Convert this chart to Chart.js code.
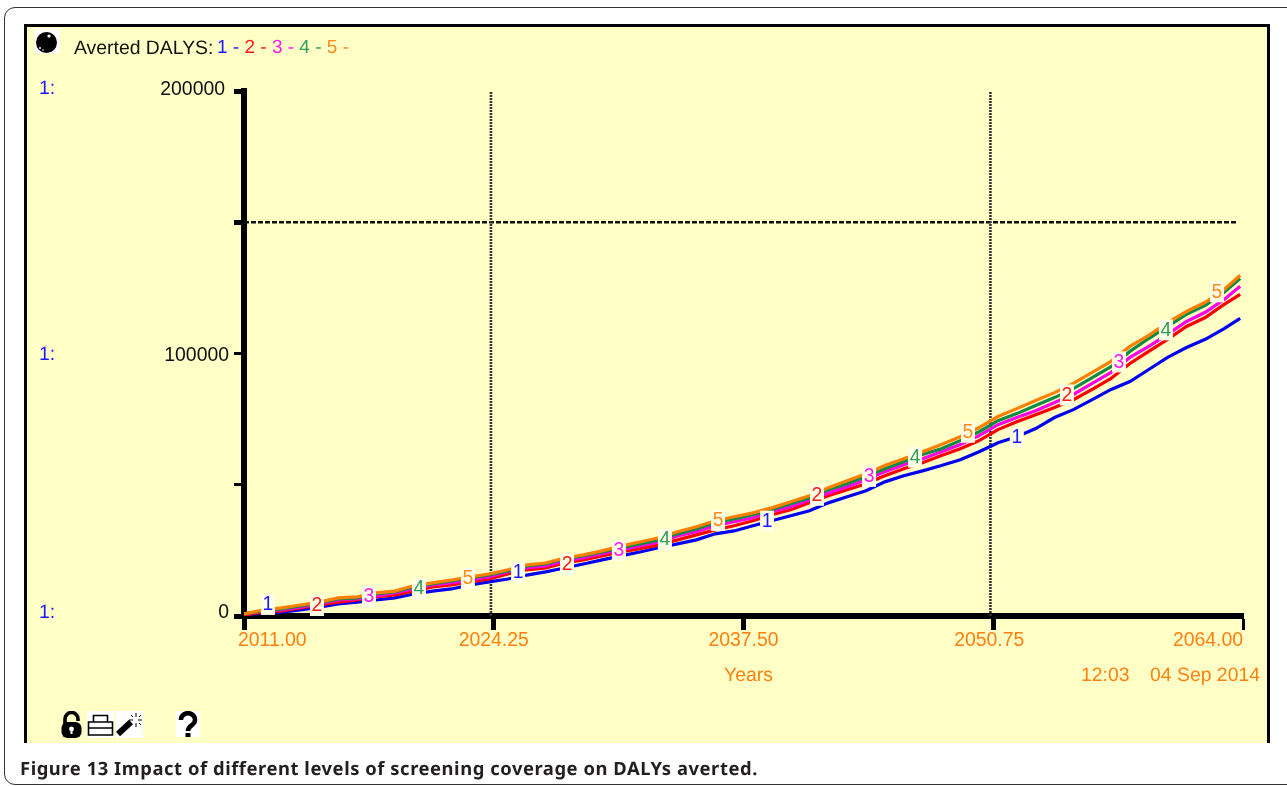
<!DOCTYPE html>
<html>
<head>
<meta charset="utf-8">
<script src="https://cdn.jsdelivr.net/npm/chart.js@4"></script>
<style>
html,body{margin:0;padding:0;background:#fff;width:1287px;height:786px;overflow:hidden;text-rendering:geometricPrecision}
#outer{position:absolute;left:4px;top:7px;width:1400px;height:778px;box-sizing:border-box;border:1px solid #333;border-radius:11px}
#panel{position:absolute;left:24px;top:24px;width:1246px;height:719px;box-sizing:border-box;background:#FFFFC6;border:3px solid #000;border-bottom:none}
canvas{position:absolute;left:0;top:0}
.t{position:absolute;font:19.4px "Liberation Sans",Arial,sans-serif;line-height:22px;white-space:pre}
#cap{position:absolute;left:20px;top:758px;font:bold 18.4px "Noto Sans",sans-serif;line-height:22px;letter-spacing:.55px;color:#231F20;white-space:pre}
svg{position:absolute}
</style>
</head>
<body>
<div id="outer"></div>
<div id="panel"></div>
<canvas id="c" width="1287" height="786"></canvas>
<div class="t" style="left:74px;top:37px;color:#111">Averted DALYS:</div>
<div class="t" id="leg" style="left:217px;top:37px;font-size:19px"></div>
<div class="t" style="left:39px;top:77px;color:#1A1AFF">1:</div>
<div class="t" style="left:39px;top:343px;color:#1A1AFF">1:</div>
<div class="t" style="left:39px;top:601px;color:#1A1AFF">1:</div>
<div class="t" style="left:724px;top:664px;color:#FF8010">Years</div>
<div class="t" style="left:1081px;top:664px;color:#FF8010">12:03</div>
<div class="t" style="left:1150px;top:664px;color:#FF8010">04 Sep 2014</div>
<div id="cap">Figure 13 Impact of different levels of screening coverage on DALYs averted.</div>

<svg style="left:35px;top:28px" width="25" height="25" viewBox="0 0 25 25"><rect width="25" height="25" fill="#fff"/><circle cx="11.5" cy="14.5" r="10.5" fill="#000"/><circle cx="14" cy="8" r="1.6" fill="#fff"/><circle cx="5" cy="20" r="1" fill="#fff"/><circle cx="8" cy="22" r=".8" fill="#fff"/></svg>
<svg style="left:60px;top:711px" width="25" height="27" viewBox="0 0 25 27"><path d="M5 14V8a6.5 6.5 0 0 1 13 0v2" fill="none" stroke="#000" stroke-width="3.6"/><rect x="1.5" y="11" width="20" height="16" rx="6" fill="#000"/><circle cx="11.5" cy="18" r="2.4" fill="#fff"/><rect x="10.5" y="18" width="2" height="5" fill="#fff"/></svg>
<svg style="left:87px;top:711px" width="27" height="27" viewBox="0 0 27 27"><rect width="27" height="27" fill="#fff"/><path d="M6.5 11V4.5h14V11M1.5 11h24v13h-24zM1.5 17h24" fill="none" stroke="#000" stroke-width="1.6"/></svg>
<svg style="left:116px;top:711px" width="27" height="27" viewBox="0 0 27 27"><rect width="27" height="27" fill="#fff"/><path d="M2 23l13-12" stroke="#000" stroke-width="6"/><path d="M20 2v4M20 12v4M13 9h4M22 9h4M15 4l2 2M25 4l-2 2M25 14l-2-2" stroke="#000" stroke-width="1"/></svg>
<svg style="left:176px;top:711px" width="24" height="26" viewBox="0 0 24 26"><rect width="24" height="26" fill="#fff"/><path d="M5 9a7 6.5 0 1 1 11 5c-3 2-4 3-4 6" fill="none" stroke="#000" stroke-width="4.5"/><rect x="9.5" y="22" width="5" height="4" fill="#000"/></svg>

<script>
const years = [2011,2012,2013,2014,2015,2016,2017,2018,2019,2020,2021,2022,2023,2024,2025,2026,2027,2028,2029,2030,2031,2032,2033,2034,2035,2036,2037,2038,2039,2040,2041,2042,2043,2044,2045,2046,2047,2048,2049,2050,2051,2052,2053,2054,2055,2056,2057,2058,2059,2060,2061,2062,2063,2063.85];
const s1 = [400,1100,1500,2300,3400,4600,5300,6100,6900,8400,9500,10300,11800,13000,14100,15600,16800,18300,19800,21400,22900,24400,26000,27500,29000,31300,32400,34400,36300,38200,40100,43100,45400,47700,51100,53400,55300,57300,59500,62600,66000,68300,71400,75600,78600,82400,86300,89300,93900,98500,102300,105400,109500,113400];
const s2 = [400,1500,1900,3100,4200,5300,6100,7300,8000,9500,11100,11800,13000,14100,16000,17600,18300,20200,21400,22900,24400,25600,27100,29000,30900,32800,34400,36300,38600,40500,43100,45800,48100,50400,53400,56100,58400,61100,63700,66800,71000,74000,76700,79400,82400,86300,90500,96200,100800,105400,110300,113700,118700,122500];
const s3 = [800,1900,2300,3400,4600,6100,6500,7600,8800,10300,11800,12600,13700,14900,16800,18300,19100,21000,22100,23700,25200,26700,28200,30500,32100,34400,35900,37400,39700,41600,44300,46900,49200,51900,55000,57600,59900,62600,65300,68700,72900,75600,78200,81300,84400,88600,92800,98500,102700,107300,112200,115700,120600,125600];
const s4 = [800,1900,2700,3800,5000,6500,6900,8400,9200,11100,12200,13400,14500,15600,17200,19100,19800,21800,22900,24400,26000,27500,29000,31300,33200,35500,37000,38600,40500,42800,45000,48100,50400,53100,56100,58800,61500,63700,66800,70200,74400,77100,80200,83200,86600,90800,95000,100800,105700,110300,114900,118300,123300,128600];
const s5 = [800,2300,3100,4200,5300,6900,7300,8800,9500,11500,12600,13700,14900,16000,17600,19500,20200,22100,23300,24800,26700,28200,29800,32100,34000,36300,37800,39300,41200,43500,45800,48900,51500,54200,57300,59900,62600,65300,68300,71800,76000,79000,82100,85100,88600,92800,97000,102700,106900,111800,116000,119500,124400,129800];
const seriesNames = ['1','2','3','4','5'];
const lineColors = ['#0000F0','#FF0000','#FF00E6','#128A45','#FF8000'];
const textColors = ['#1A1AFF','#FF1A1A','#FF1AE6','#2E9E58','#FF8A1A'];
const xTicks = [2011,2024.25,2037.5,2050.75,2064];
const yTicks = [0,50000,100000,150000,200000];
const yLabelled = [0,100000,200000];
const labelSeries = [0,1,2,3,4,0,1,2,3,4,0,1,2,3,4,0,1,2,3,4];
const labelYears = [2012.27,2014.87,2017.63,2020.28,2022.88,2025.54,2028.14,2030.89,2033.33,2036.15,2038.75,2041.4,2044.16,2046.6,2049.41,2052,2054.66,2057.42,2059.91,2062.62];
const labelValues = [4600,4200,7600,10700,14500,16800,19800,25200,29400,36600,36300,46200,53400,60700,70200,68300,84400,97000,109200,123700];
const vRefYears = [2024.1,2050.6];
const hRefValue = 150000;
const hRefEnd = 2063.7;

document.getElementById('leg').innerHTML = seriesNames.map((n,i)=>
  '<span style="color:'+textColors[i]+'">'+n+' - </span>').join('');

const all = [s1,s2,s3,s4,s5];
const datasets = all.map((s,i)=>({
  label:seriesNames[i],
  data:s.map((v,k)=>({x:years[k],y:v})),
  borderColor:lineColors[i],
  borderWidth:3.2,
  pointRadius:0,
  tension:0,
  order:5-i
}));
vRefYears.forEach(y=>datasets.push({
  data:[{x:y,y:0},{x:y,y:200000}],
  borderColor:'#333',borderWidth:2.6,borderDash:[2,1],pointRadius:0,order:10
}));
datasets.push({
  data:[{x:2011,y:hRefValue},{x:hRefEnd,y:hRefValue}],
  borderColor:'#111',borderWidth:2.4,borderDash:[5,2],pointRadius:0,order:10
});

const curveLabels = {
  id:'curveLabels',
  afterDatasetsDraw(ch){
    const {ctx,scales:{x,y}} = ch;
    ctx.save();
    ctx.font = '19.4px "Liberation Sans",Arial,sans-serif';
    ctx.textAlign='center';ctx.textBaseline='middle';
    labelSeries.forEach((s,i)=>{
      const px=x.getPixelForValue(labelYears[i]), py=y.getPixelForValue(labelValues[i]);
      ctx.fillStyle='#FFFFE6';
      ctx.fillRect(px-7,py-10,14,21);
      ctx.fillStyle=textColors[s];
      ctx.fillText(seriesNames[s],px,py+1);
    });
    ctx.restore();
  }
};

const labelNudges = {'2011.00':[-6,0],'2050.75':[-4,0],'200000':[-5,-1],'100000':[-1,2],'0':[-1,-3]};
const nudgeTickLabels = {
  id:'nudgeTickLabels',
  beforeDraw(ch){
    ['x','y'].forEach(id=>{
      ch.scales[id].getLabelItems(ch.chartArea).forEach(it=>{
        const n = labelNudges[it.label];
        if(n && !it._nudged){
          it.options.translation=[it.options.translation[0]+n[0],it.options.translation[1]+n[1]];
          it._nudged=true;
        }
      });
    });
  }
};

new Chart(document.getElementById('c'),{
  type:'line',
  data:{datasets},
  plugins:[curveLabels,nudgeTickLabels],
  options:{
    responsive:false,animation:false,
    layout:{padding:{left:0,top:91,right:44,bottom:0}},
    plugins:{legend:{display:false},tooltip:{enabled:false}},
    scales:{
      x:{
        type:'linear',min:2011,max:2064,
        afterBuildTicks(a){a.ticks=xTicks.map(v=>({value:v}));},
        afterFit(a){a.height=170;},
        border:{color:'#000',width:6},
        grid:{drawOnChartArea:false,tickLength:14,tickColor:'#000',
          tickWidth:c=>c.index===4?3:5},
        ticks:{color:'#FF8010',padding:-1,align:'inner',maxRotation:0,autoSkip:false,
          font:{family:'"Liberation Sans",Arial,sans-serif',size:19.4},
          callback:v=>v.toFixed(2)}
      },
      y:{
        type:'linear',min:0,max:200000,
        afterBuildTicks(a){a.ticks=yTicks.map(v=>({value:v}));},
        afterFit(a){a.width=244;},
        border:{color:'#000',width:6},
        grid:{drawOnChartArea:false,tickLength:10,tickColor:'#000',
          tickWidth:c=>(c.tick&&(c.tick.value===100000||c.tick.value===50000))?3:5},
        ticks:{color:'#111',padding:4,autoSkip:false,
          font:{family:'"Liberation Sans",Arial,sans-serif',size:19.4},
          callback:v=>yLabelled.includes(v)?String(v):''}
      }
    }
  }
});
</script>
</body>
</html>
